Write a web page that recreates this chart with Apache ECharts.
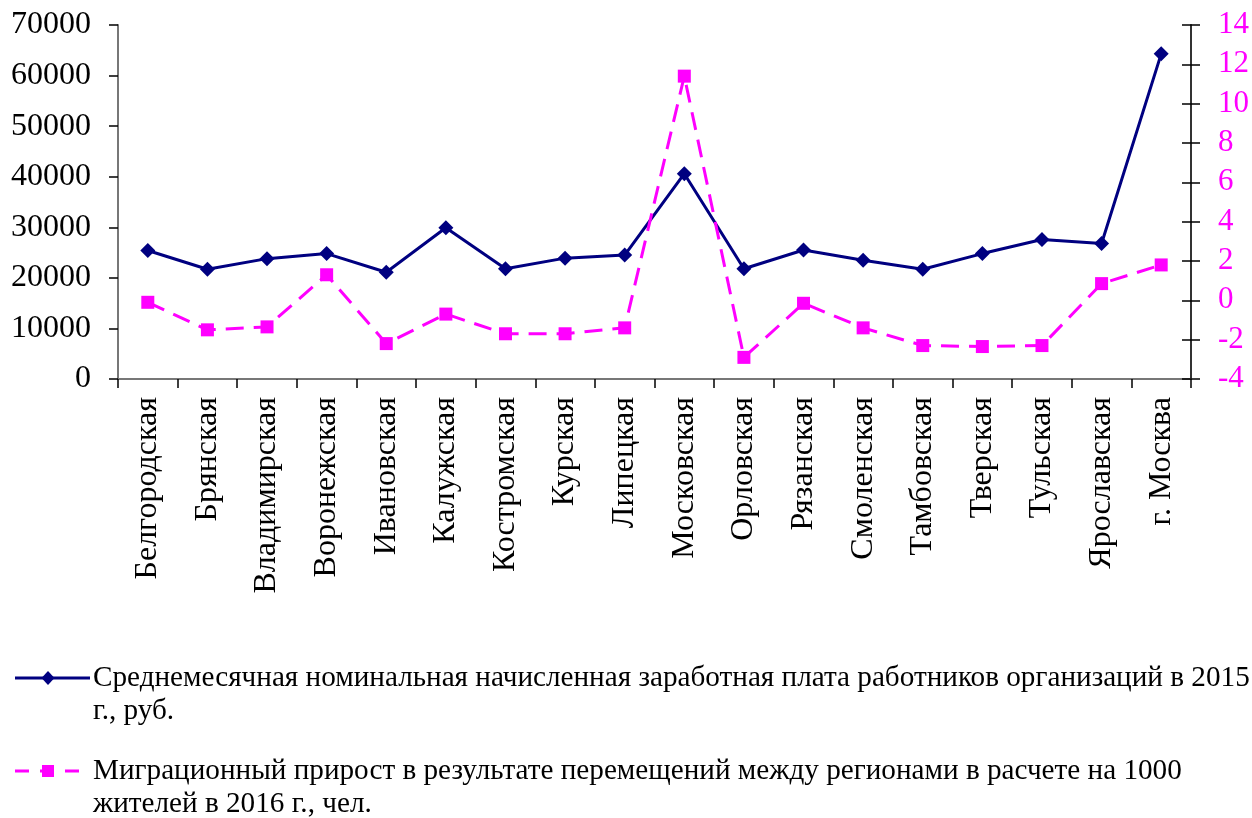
<!DOCTYPE html>
<html>
<head>
<meta charset="utf-8">
<script src="https://cdn.jsdelivr.net/npm/echarts@6/dist/echarts.min.js"></script>
<style>
html,body{margin:0;padding:0;background:#fff;}
#chart{width:1252px;height:818px;}
</style>
</head>
<body>
<div id="chart"></div>
<script>
var categories = ['Белгородская','Брянская','Владимирская','Воронежская','Ивановская','Калужская','Костромская','Курская','Липецкая','Московская','Орловская','Рязанская','Смоленская','Тамбовская','Тверская','Тульская','Ярославская','г. Москва'];
var wages = [25400, 21700, 23800, 24800, 21100, 29900, 21800, 23900, 24500, 40600, 21800, 25500, 23500, 21700, 24800, 27600, 26800, 64300];
var migration = [-0.1, -1.5, -1.35, 1.3, -2.2, -0.7, -1.7, -1.7, -1.4, 11.4, -2.9, -0.15, -1.4, -2.3, -2.35, -2.3, 0.85, 1.8];
var leftTicks = {min: 0, max: 70000, interval: 10000};
var rightTicks = {min: -4, max: 14, interval: 2};
var seriesNames = [
  'Среднемесячная номинальная начисленная заработная плата работников организаций в 2015\nг., руб.',
  'Миграционный прирост в результате перемещений между регионами в расчете на 1000\nжителей в 2016 г., чел.'
];

var FONT = "'Liberation Serif', 'Times New Roman', serif";
var NAVY = '#000080', MAG = '#FF00FF';
var chart = echarts.init(document.getElementById('chart'));

var legendFont = "29.2px 'Liberation Serif', 'Times New Roman', serif";
var graphics = [
  // legend 1: solid navy line with diamond
  {type: 'line', shape: {x1: 15, y1: 678, x2: 90, y2: 678}, style: {stroke: NAVY, lineWidth: 3}},
  {type: 'polygon', shape: {points: [[48, 671], [54.5, 678], [48, 685], [41.5, 678]]}, style: {fill: NAVY}},
  {type: 'text', style: {text: seriesNames[0], x: 93, y: 662, font: legendFont, fill: '#000', lineHeight: 33, align: 'left', verticalAlign: 'top'}},
  // legend 2: dashed magenta line with square
  {type: 'line', shape: {x1: 15, y1: 771, x2: 90, y2: 771}, style: {stroke: MAG, lineWidth: 3, lineDash: [14, 11]}},
  {type: 'rect', shape: {x: 42, y: 765, width: 12, height: 12}, style: {fill: MAG}},
  {type: 'text', style: {text: seriesNames[1], x: 93, y: 755, font: legendFont, fill: '#000', lineHeight: 33, align: 'left', verticalAlign: 'top'}}
];

chart.setOption({
  backgroundColor: '#fff',
  animation: false,
  grid: {left: 118, right: 61, top: 25, bottom: 439, containLabel: false},
  graphic: graphics,
  xAxis: {
    type: 'category',
    data: categories,
    boundaryGap: true,
    axisLine: {lineStyle: {color: '#777', width: 2}},
    axisTick: {show: true, alignWithLabel: false, length: 9, lineStyle: {color: '#000', width: 1.5}},
    axisLabel: {rotate: 90, margin: 18, fontFamily: FONT, fontSize: 32, color: '#000', interval: 0},
    splitLine: {show: false}
  },
  yAxis: [
    {
      type: 'value', position: 'left',
      min: leftTicks.min, max: leftTicks.max, interval: leftTicks.interval,
      axisLine: {show: true, lineStyle: {color: '#777', width: 2}},
      axisTick: {show: true, length: 9, lineStyle: {color: '#000', width: 1.5}},
      axisLabel: {margin: 27, fontFamily: FONT, fontSize: 32, color: '#000', formatter: function (v) { return String(v); }},
      splitLine: {show: false}
    },
    {
      type: 'value', position: 'right',
      min: rightTicks.min, max: rightTicks.max, interval: rightTicks.interval,
      axisLine: {show: true, lineStyle: {color: '#333', width: 2}},
      axisTick: {show: true, length: 9, lineStyle: {color: '#000', width: 1.5}},
      axisLabel: {margin: 27, fontFamily: FONT, fontSize: 31, color: MAG, formatter: function (v) { return String(v); }},
      splitLine: {show: false}
    },
    {
      type: 'value', position: 'right',
      min: rightTicks.min, max: rightTicks.max, interval: rightTicks.interval,
      axisLine: {show: false},
      axisTick: {show: true, inside: true, length: 9, lineStyle: {color: '#000', width: 1.5}},
      axisLabel: {show: false},
      splitLine: {show: false}
    }
  ],
  series: [
    {
      name: 'wages', type: 'line', yAxisIndex: 0, data: wages,
      symbol: 'diamond', symbolSize: 15,
      lineStyle: {color: NAVY, width: 3},
      itemStyle: {color: NAVY}
    },
    {
      name: 'migration', type: 'line', yAxisIndex: 1, data: migration,
      symbol: 'rect', symbolSize: 13,
      lineStyle: {color: MAG, width: 3, type: [18, 10]},
      itemStyle: {color: MAG}
    }
  ]
});
</script>
</body>
</html>
